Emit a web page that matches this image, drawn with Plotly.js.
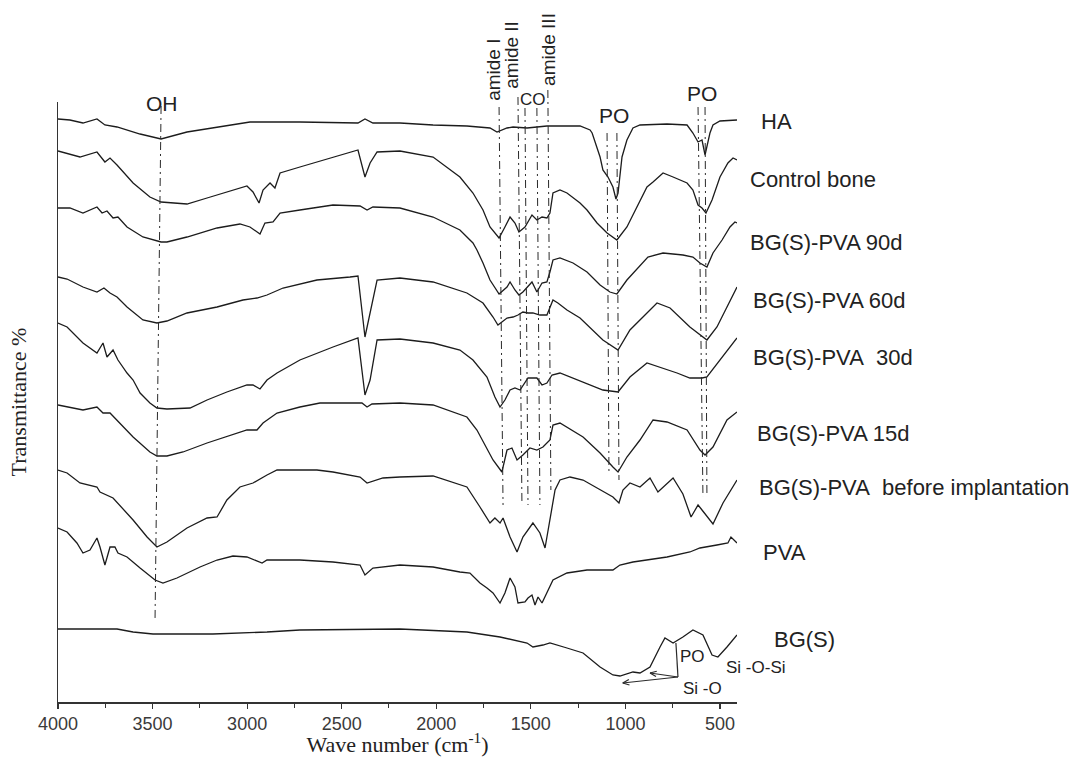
<!DOCTYPE html>
<html>
<head>
<meta charset="utf-8">
<script src="https://cdn.plot.ly/plotly-3.0.1.min.js"></script>
<style>html,body{margin:0;padding:0;background:#fff;}#chart{width:1077px;height:757px;}</style>
</head>
<body>
<div id="chart"></div>
<script>
// ---- data (wavenumber cm-1, stacked transmittance in arbitrary offset units) ----
const wn_HA = [4000,3937,3868,3794,3752,3688,3566,3455,3318,3159,2985,2721,2414,2377,2335,2192,2017,1838,1716,1679,1626,1594,1520,1415,1240,1187,1176,1134,1119,1092,1066,1050,1039,1018,992,960,923,780,674,643,616,595,579,553,537,500,410];
const t_HA  = [583,582,579,583,577,575,568,563,570,575,580,580,579,583,579,579,577,576,574,570,574,575,574,576,576,572,569,545,532,525,515,503,509,545,562,574,577,578,577,569,560,562,547,569,577,581,582];

const wn_bone = [4000,3884,3794,3752,3725,3688,3603,3514,3455,3318,3212,3075,3001,2969,2937,2916,2879,2853,2826,2721,2546,2414,2377,2350,2313,2192,2017,1875,1806,1753,1716,1668,1637,1610,1584,1563,1531,1494,1468,1441,1415,1399,1383,1346,1309,1240,1203,1150,1097,1045,992,939,886,854,801,748,674,643,616,595,574,542,500,458,431,410];
const t_bone  = [551,545,550,540,544,537,519,505,500,498,504,512,516,510,499,512,519,514,529,535,545,552,525,539,550,551,545,525,509,492,475,464,475,485,479,470,475,487,482,485,484,489,509,512,509,499,492,479,469,462,475,495,515,520,529,525,519,512,497,494,489,502,525,539,544,542];

const wn_90d = [4000,3937,3868,3794,3767,3741,3709,3683,3635,3551,3455,3424,3318,3159,3038,2985,2932,2906,2863,2826,2721,2546,2403,2366,2335,2192,2017,1875,1806,1785,1753,1716,1668,1626,1610,1584,1563,1542,1494,1468,1441,1415,1399,1383,1346,1277,1203,1134,1082,1045,992,923,881,801,696,643,606,569,537,489,447,421,410];
const t_90d  = [494,494,489,495,489,491,484,485,475,465,460,460,465,474,478,475,468,479,480,489,492,497,496,492,495,494,485,472,459,452,439,422,408,415,420,412,407,410,420,410,419,420,430,442,444,439,430,417,410,408,422,437,445,449,447,445,439,435,449,462,475,480,479];

const wn_60d = [4000,3952,3868,3794,3757,3725,3688,3635,3551,3477,3424,3318,3159,3022,2948,2895,2810,2631,2456,2414,2377,2350,2313,2192,2017,1838,1753,1700,1674,1653,1626,1594,1568,1542,1515,1489,1452,1415,1399,1383,1357,1309,1240,1119,1039,976,833,764,659,569,516,410];
const t_60d  = [425,423,415,410,414,409,405,395,382,379,381,389,395,402,404,407,414,422,425,426,365,389,422,424,420,409,399,385,377,380,384,385,387,390,389,389,387,387,395,402,399,392,384,362,352,372,399,394,375,362,375,415];

const wn_30d = [4000,3952,3868,3794,3762,3741,3709,3683,3635,3603,3566,3514,3477,3424,3302,3212,3107,3001,2969,2932,2895,2842,2721,2546,2414,2377,2350,2313,2192,2017,1875,1806,1732,1690,1663,1637,1610,1584,1557,1531,1515,1468,1441,1415,1388,1346,1240,1119,1039,976,886,817,727,659,595,569,500,410];
const t_30d  = [379,375,359,349,359,345,352,342,329,322,309,299,294,293,294,302,310,317,317,313,322,329,342,355,364,307,322,362,363,359,352,342,325,305,295,302,312,314,312,319,324,324,317,319,327,329,321,312,310,325,339,335,329,324,324,325,342,364];

const wn_15d = [4000,3868,3794,3762,3725,3688,3603,3514,3477,3424,3339,3212,3075,3001,2948,2916,2842,2721,2615,2393,2366,2340,2192,2017,1838,1785,1700,1653,1626,1600,1573,1542,1505,1468,1436,1399,1383,1346,1224,1134,1066,1039,992,923,854,780,674,606,579,537,463,410];
const t_15d  = [297,292,295,289,289,282,265,250,246,246,250,259,267,272,272,279,289,295,299,299,295,298,299,297,285,272,242,230,252,254,242,247,254,252,255,262,277,279,265,249,235,230,245,262,282,280,272,252,247,255,282,290];

const wn_before = [4000,3952,3884,3794,3778,3741,3709,3603,3529,3477,3424,3318,3212,3159,3107,3038,2969,2895,2842,2631,2546,2403,2366,2282,2192,2017,1838,1769,1716,1690,1663,1647,1610,1573,1542,1489,1452,1425,1399,1372,1346,1293,1224,1134,1066,1034,1013,976,923,870,828,748,696,653,616,595,537,484,410];
const t_before  = [232,229,219,215,210,207,204,182,165,155,160,174,184,185,202,215,219,227,232,232,230,225,219,224,225,226,215,195,179,184,179,184,165,150,165,179,169,154,182,212,222,225,222,212,205,199,212,219,215,224,210,224,208,185,197,192,178,199,222];

const wn_PVA = [4000,3952,3900,3868,3831,3794,3778,3752,3725,3699,3683,3635,3566,3487,3445,3371,3249,3159,3075,3001,2921,2895,2721,2546,2403,2377,2335,2192,2017,1875,1822,1769,1732,1700,1663,1637,1610,1584,1568,1531,1515,1494,1478,1462,1441,1415,1383,1309,1203,1066,1029,960,780,659,606,516,458,442,410];
const t_PVA  = [174,170,159,149,152,164,155,137,155,155,149,145,134,122,119,124,135,142,146,145,139,142,142,140,137,127,134,137,135,130,129,119,114,109,99,109,124,115,99,100,104,107,97,105,99,109,122,129,132,132,137,140,145,150,154,157,159,165,159];

const wn_BGS = [4000,3688,3603,3498,3181,2895,2721,2192,1838,1663,1520,1489,1436,1399,1309,1224,1134,1066,1029,960,923,870,817,791,748,696,643,590,542,511,463,410];
const t_BGS  = [73,73,70,68,68,70,72,73,70,65,59,55,57,59,54,49,35,27,26,30,29,35,55,64,59,65,72,67,47,45,55,67];

const seriesNames = ["HA","Control bone","BG(S)-PVA 90d","BG(S)-PVA 60d","BG(S)-PVA  30d","BG(S)-PVA 15d","BG(S)-PVA  before implantation","PVA","BG(S)"];
const xTicks = [4000,3500,3000,2500,2000,1500,1000,500];

// band marker lines: [wn top, level top, wn bottom, level bottom]
const bandOH      = [3455,596,3487,82];
const bandAmideI  = [1668,595,1647,197];
const bandAmideII = [1568,605,1547,197];
const bandCO1     = [1531,594,1515,197];
const bandCO2     = [1468,594,1452,197];
const bandAmideIII= [1410,612,1394,212];
const bandPO1a    = [1097,569,1087,229];
const bandPO1b    = [1045,569,1034,222];
const bandPO2a    = [616,595,590,205];
const bandPO2b    = [579,595,569,205];

// BG(S) pointers: [wn, level] of the pointer joint and the two arrow tips, and top of the stem
const pointerJoint = [722,25];
const pointerStemTop = [733,59];
const pointerTips = [[1014,19],[870,29]];

// ---- chart ----
const X_RANGE = [4000,410];
const Y_RANGE = [0,600];
const PLOT_W = 1077-58-340, PLOT_H = 757-102-55;
const lineStyle = {color:'#1c1c1c', width:1.3};
const series = [
  [wn_HA,t_HA],[wn_bone,t_bone],[wn_90d,t_90d],[wn_60d,t_60d],[wn_30d,t_30d],
  [wn_15d,t_15d],[wn_before,t_before],[wn_PVA,t_PVA],[wn_BGS,t_BGS]
];
const traces = series.map((s,i)=>({
  x:s[0], y:s[1], type:'scatter', mode:'lines', name:seriesNames[i],
  line:lineStyle, hoverinfo:'skip'
}));

const toPaper = v => (v - Y_RANGE[0])/(Y_RANGE[1]-Y_RANGE[0]);
const bands = [bandOH,bandAmideI,bandAmideII,bandCO1,bandCO2,bandAmideIII,bandPO1a,bandPO1b,bandPO2a,bandPO2b];
const shapes = bands.map(b=>({
  type:'line', xref:'x', yref:'paper',
  x0:b[0], y0:toPaper(b[1]), x1:b[2], y1:toPaper(b[3]),
  line:{color:'#2a2a2a', width:1, dash:'8px,4px,2px,4px'}
}));
const ptrLine = {color:'#2a2a2a', width:1.2};
shapes.push({type:'line', xref:'x', yref:'y', x0:pointerStemTop[0], y0:pointerStemTop[1], x1:pointerJoint[0], y1:pointerJoint[1], line:ptrLine});
const xPerPx = (X_RANGE[1]-X_RANGE[0])/PLOT_W, yPerPx = (Y_RANGE[1]-Y_RANGE[0])/PLOT_H;
pointerTips.forEach(tip=>{
  shapes.push({type:'line', xref:'x', yref:'y', x0:pointerJoint[0], y0:pointerJoint[1], x1:tip[0], y1:tip[1], line:ptrLine});
  const dxp = (pointerJoint[0]-tip[0])/xPerPx, dyp = (pointerJoint[1]-tip[1])/yPerPx;
  const len = Math.hypot(dxp,dyp), ux = dxp/len, uy = dyp/len, L = 7, a = 0.4;
  [a,-a].forEach(r=>{
    const vx = ux*Math.cos(r)-uy*Math.sin(r), vy = ux*Math.sin(r)+uy*Math.cos(r);
    shapes.push({type:'line', xref:'x', yref:'y', x0:tip[0], y0:tip[1],
      x1:tip[0]+vx*L*xPerPx, y1:tip[1]+vy*L*yPerPx, line:ptrLine});
  });
});

const sans = 'Liberation Sans, Arial, sans-serif';
const serif = 'Liberation Serif, Times New Roman, serif';
const txt = '#222';
const ann = [];
function addTop(text, x, yp, size, angle){
  ann.push({text, x, y:yp, xref:'x', yref:'paper', showarrow:false, textangle:angle||0,
    font:{family:sans, size, color:txt}, xanchor:'center', yanchor:'middle'});
}
addTop('OH', 3450, toPaper(598), 21);
addTop('amide I', 1701, toPaper(632), 19, -90);
addTop('amide II', 1601, toPaper(647), 19, -90);
addTop('CO', 1491, toPaper(602), 17);
addTop('amide III', 1408, toPaper(652.3), 19, -90);
addTop('PO', 1062, toPaper(586.7), 21);
addTop('PO', 595, toPaper(608.2), 21);

const rightX = [1.0328,1.0166,1.0166,1.0202,1.0206,1.0265,1.029,1.0349,1.0511];
const rightY = [581,522.5,460,402,345,269,214.5,150,63];
seriesNames.forEach((n,i)=>{
  ann.push({text:n.replace(/  /g,'\u00a0 '), x:rightX[i], y:rightY[i], xref:'paper', yref:'y', showarrow:false,
    xanchor:'left', yanchor:'middle', font:{family:sans, size:22, color:txt}});
});
ann.push({text:'PO', x:643, y:46, xref:'x', yref:'y', showarrow:false, xanchor:'center', yanchor:'middle', font:{family:sans,size:17,color:txt}});
ann.push({text:'Si -O-Si', x:1.0277, y:34.5, xref:'paper', yref:'y', showarrow:false, xanchor:'center', yanchor:'middle', font:{family:sans,size:17,color:txt}});
ann.push({text:'Si -O', x:592, y:14, xref:'x', yref:'y', showarrow:false, xanchor:'center', yanchor:'middle', font:{family:sans,size:17,color:txt}});

const layout = {
  width:1077, height:757,
  margin:{l:58, r:340, t:102, b:55, pad:0},
  paper_bgcolor:'#fff', plot_bgcolor:'#fff',
  showlegend:false,
  xaxis:{
    range:X_RANGE, autorange:false,
    title:{text:'Wave number (cm<sup>-1</sup>)', font:{family:serif, size:22, color:txt}, standoff:4},
    tickmode:'array', tickvals:xTicks, ticktext:xTicks.map(String),
    ticks:'outside', ticklen:5, tickwidth:1.2, tickcolor:'#333',
    minor:{tickmode:'linear', tick0:0, dtick:250, ticks:'outside', ticklen:4, tickwidth:1, tickcolor:'#333', showgrid:false},
    showline:true, linecolor:'#333', linewidth:1.5,
    showgrid:false, zeroline:false, automargin:false,
    tickfont:{family:sans, size:18, color:'#3a3a3a'}
  },
  yaxis:{
    range:Y_RANGE, autorange:false,
    title:{text:'Transmittance %', font:{family:serif, size:22, color:txt}, standoff:24},
    showticklabels:false, ticks:'',
    showline:true, linecolor:'#333', linewidth:1.5,
    showgrid:false, zeroline:false, automargin:false
  },
  shapes, annotations:ann
};
Plotly.newPlot('chart', traces, layout, {staticPlot:true, displayModeBar:false});
</script>
</body>
</html>
